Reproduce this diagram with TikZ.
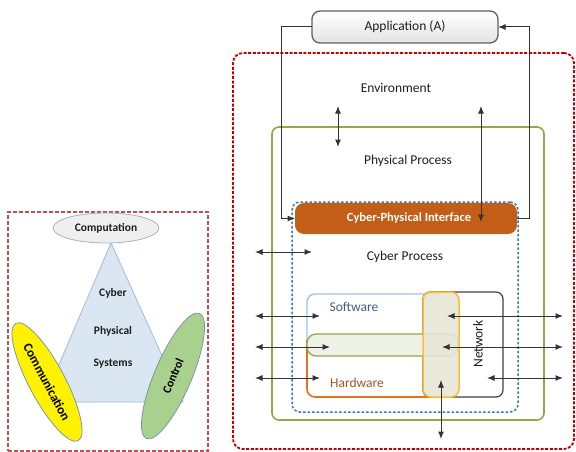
\documentclass[tikz,border=0pt]{standalone}
\usepackage{fontspec}
\setmainfont{Carlito}
\usetikzlibrary{arrows.meta,shapes.geometric}

\definecolor{outerred}{HTML}{C00000}
\definecolor{panelred}{HTML}{C0504D}
\definecolor{physgreen}{HTML}{8FA84A}
\definecolor{cyberblue}{HTML}{3A78B5}
\definecolor{cpifill}{HTML}{C25E17}
\definecolor{swblue}{HTML}{9DC3E6}
\definecolor{hworange}{HTML}{E07422}
\definecolor{barfill}{HTML}{EEF1E6}
\definecolor{busfill}{HTML}{E8E5D6}
\definecolor{busgold}{HTML}{F5C12E}
\definecolor{netgray}{HTML}{404040}
\definecolor{arrowgray}{HTML}{333333}
\definecolor{trifill}{HTML}{DAE6F2}
\definecolor{triedge}{HTML}{A3BBD8}
\definecolor{compfill}{HTML}{EFEFEF}
\definecolor{ctrlgreen}{HTML}{A9D18E}
\definecolor{ellipseedge}{HTML}{7F93AD}
\definecolor{swtext}{HTML}{3F5F8A}
\definecolor{hwtext}{HTML}{A3532A}

\tikzset{
  bigtxt/.style={font=\fontsize{13.5}{16}\selectfont, text=black!88},
  smalltxt/.style={font=\bfseries\fontsize{11.5}{14}\selectfont, text=black!88},
  arr/.style={{Latex[length=7.5pt,width=6pt]}-{Latex[length=7.5pt,width=6pt]}, draw=arrowgray, line width=1pt},
  oneway/.style={-{Latex[length=7.5pt,width=6pt]}, draw=arrowgray, line width=1pt},
  boxnode/.style={inner sep=0pt, outer sep=0pt},
}

\begin{document}
\begin{tikzpicture}[x=1pt,y=-1pt]
\useasboundingbox (0,0) rectangle (576,452);

% ---------------- left panel: CPS triangle ----------------
\node[boxnode, draw=panelred, line width=1.1pt, dash pattern=on 4pt off 2pt,
      minimum width=200pt, minimum height=239pt] (panel) at (108,331.5) {};

\filldraw[fill=trifill, draw=triedge, line width=0.8pt]
  (111,243) -- (43,402) -- (183,402) -- cycle;

\node[smalltxt] (cyber) at (113,293) {Cyber};
\node[smalltxt] (physical) at (113,331) {Physical};
\node[smalltxt] (systems) at (113,364) {Systems};

\node[ellipse, draw=ellipseedge!70, fill=compfill, line width=0.8pt,
      minimum width=106pt, minimum height=30pt, inner sep=0pt, smalltxt]
      (computation) at (106,228) {Computation};

\node[ellipse, draw=ellipseedge, fill=yellow, line width=0.8pt,
      minimum width=133pt, minimum height=36pt, inner sep=0pt, rotate=-62,
      font=\bfseries\fontsize{13}{15}\selectfont, text=black]
      (communication) at (47,382) {Communication};

\node[ellipse, draw=ellipseedge, fill=ctrlgreen, line width=0.8pt,
      minimum width=136pt, minimum height=37pt, inner sep=0pt, rotate=67,
      font=\bfseries\fontsize{12}{14}\selectfont, text=black]
      (control) at (173,376) {Control};

% ---------------- right panel: CPS architecture ----------------
\node[boxnode, draw=outerred, line width=1.8pt, dash pattern=on 3pt off 1.6pt,
      rounded corners=10pt, minimum width=341pt, minimum height=396pt]
      (environment) at (403.5,251) {};

\node[boxnode, draw=physgreen, line width=1.6pt, rounded corners=7pt,
      minimum width=272pt, minimum height=293pt] (physbox) at (408,273.5) {};

\node[boxnode, fill=cpifill, rounded corners=9pt,
      minimum width=222pt, minimum height=31pt] (cpi) at (406,218.5) {};
\node[font=\bfseries\fontsize{12.5}{14}\selectfont, text=white]
      (cpitxt) at (409,218.5) {Cyber-Physical Interface};

\node[boxnode, draw=cyberblue, line width=1.5pt, dash pattern=on 2.5pt off 2pt,
      rounded corners=8pt, minimum width=226pt, minimum height=210pt]
      (cyberbox) at (405,307) {};

\node[bigtxt] (envtxt) at (396,88) {Environment};
\node[bigtxt] (phystxt) at (408,161) {Physical Process};
\node[bigtxt] (cybertxt) at (405,257) {Cyber Process};

% network block
\node[boxnode, draw=netgray, line width=1.2pt, rounded corners=7pt,
      minimum width=80pt, minimum height=105pt] (netbox) at (463,344.5) {};

% software (upper, blue) and hardware (lower, orange) outlines
\draw[swblue, line width=1.4pt, rounded corners=8pt]
  (307,340) -- (307,294) -- (440,294);
\draw[hworange, line width=1.6pt, rounded corners=8pt]
  (307,340) -- (307,397) -- (440,397);

% shared bar between software and hardware
\node[boxnode, draw=physgreen, fill=barfill, line width=1.3pt, rounded corners=9pt,
      minimum width=151pt, minimum height=22pt] (bar) at (382.5,345) {};

% vertical bus
\node[boxnode, draw=busgold, fill=busfill, fill opacity=0.9, line width=1.5pt,
      rounded corners=8pt, minimum width=36pt, minimum height=105pt]
      (bus) at (441,344.5) {};

\node[bigtxt, text=swtext] (swtxt) at (354,307) {Software};
\node[bigtxt, text=hwtext] (hwtxt) at (357,383) {Hardware};
\node[bigtxt, rotate=90] (nettxt) at (478,344) {Network};

% application box and its feedback loop
\node[boxnode, draw=gray!75!black, line width=1.3pt, rounded corners=8pt,
      top color=white, bottom color=gray!22,
      minimum width=186pt, minimum height=32pt, bigtxt] (app) at (405,27) {Application (A)};

\coordinate (lbend) at (281,27);
\coordinate (rbend) at (529,27);
\draw[oneway] (app.west) -- (lbend) |- (cpi.west);
\draw[oneway] (cpi.east) -| (rbend) -- (app.east);

% interaction arrows
\coordinate (envA) at (338,106);  \coordinate (envB) at (338,147);
\coordinate (actA) at (481,106);  \coordinate (actB) at (481,222);
\draw[arr] (envA) -- (envB);
\draw[arr] (actA) -- (actB);

\coordinate (c1) at (255,252);  \coordinate (c2) at (312,252);
\draw[arr] (c1) -- (c2);

\coordinate (sl1) at (255,316); \coordinate (sl2) at (320,316);
\coordinate (bl1) at (255,347); \coordinate (bl2) at (330,347);
\coordinate (hl1) at (255,378); \coordinate (hl2) at (320,378);
\draw[arr] (sl1) -- (sl2);
\draw[arr] (bl1) -- (bl2);
\draw[arr] (hl1) -- (hl2);

\coordinate (sr1) at (447,316); \coordinate (sr2) at (563,316);
\coordinate (br1) at (442,347); \coordinate (br2) at (563,347);
\coordinate (hr1) at (487,378); \coordinate (hr2) at (563,378);
\draw[arr] (sr1) -- (sr2);
\draw[arr] (br1) -- (br2);
\draw[arr] (hr1) -- (hr2);

\coordinate (busA) at (441,380); \coordinate (busB) at (441,439);
\draw[arr] (busA) -- (busB);

\end{tikzpicture}
\end{document}
